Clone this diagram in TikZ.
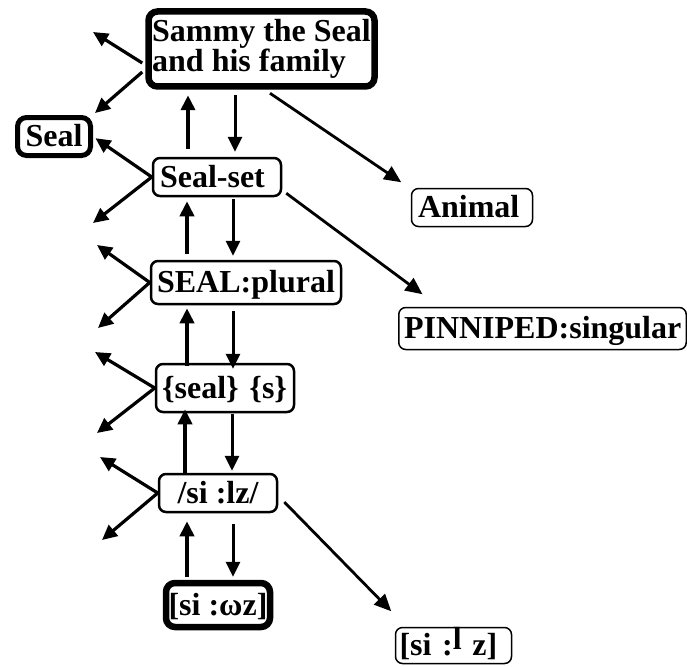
\documentclass[tikz,border=0pt]{standalone}
\usepackage{fontspec}
\setmainfont{Liberation Serif}
\usetikzlibrary{arrows.meta,calc}
\begin{document}
\begin{tikzpicture}[x=1pt,y=-1pt,
  lbl/.style={draw, rounded corners=7pt, inner sep=0pt, font=\bfseries\fontsize{32}{30}\selectfont},
  one/.style={text height=21pt, text depth=1pt},
  thickbox/.style={lbl, line width=6.5pt, rounded corners=9pt},
  midbox/.style={lbl, one, line width=2.5pt},
  thinbox/.style={lbl, one, line width=1.5pt},
  arrhead/.style={-{Triangle[length=15pt,width=14pt]}},
  uparr/.style={arrhead, line width=4pt},
  dnarr/.style={arrhead, line width=3pt},
  sidearr/.style={arrhead, line width=3.2pt},
  farr/.style={-{Triangle[length=17pt,width=15pt]}, line width=2.8pt},
]
\useasboundingbox (0,0) rectangle (687,666);

% nodes
\node[thickbox, align=left, minimum width=226pt, minimum height=75pt] (sammy) at (261.5,49) {Sammy the Seal\\and his family};
\node[thickbox, one, line width=5pt, minimum width=73pt, minimum height=38pt] (seal) at (54,136.5) {Seal};
\node[midbox, minimum width=128pt, minimum height=38pt, text width=114pt, align=left] (sealset) at (217,177) {Seal-set};
\node[midbox, minimum width=190pt, minimum height=43pt] (plural) at (246,282.5) {SEAL:plural};
\node[midbox, minimum width=138pt, minimum height=48pt, text width=126pt, align=left] (seals) at (225,388) {\{seal\}\ \{s\}};
\node[midbox, minimum width=118pt, minimum height=38pt] (silz) at (218,493) {/si :lz/};
\node[thickbox, one, minimum width=104pt, minimum height=44pt] (omega) at (218,605) {[si :ωz]};
\node[thinbox, minimum width=121pt, minimum height=38pt, text width=108pt, align=left] (animal) at (472,207.5) {Animal};
\node[thinbox, minimum width=287.5pt, minimum height=42pt, text width=277pt, align=left] (pinn) at (542.5,328.5) {PINNIPED:singular};
\node[thinbox, minimum width=116pt, minimum height=36pt, text width=108pt, align=left] (silz2) at (453.5,645.5) {[si :\raisebox{6pt}{l} z]};

% column coordinates
\coordinate (u1) at (188,0); \coordinate (d1) at (235,0);
\coordinate (u2) at (187,0); \coordinate (d2) at (233,0);
\coordinate (u3) at (187,0); \coordinate (d3) at (233,0);
\coordinate (u4) at (185,0); \coordinate (d4) at (232,0);
\coordinate (u5) at (187,0); \coordinate (d5) at (233,0);

% vertical arrows
\draw[uparr, shorten <=8pt, shorten >=5.5pt] (sealset.north -| u1) -- (sammy.south -| u1);
\draw[dnarr, shorten <=5.5pt, shorten >=5pt] (sammy.south -| d1) -- (sealset.north -| d1);
\draw[uparr, shorten <=6pt, shorten >=4pt] (plural.north -| u2) -- (sealset.south -| u2);
\draw[dnarr, shorten <=2pt, shorten >=4pt] (sealset.south -| d2) -- (plural.north -| d2);
\draw[uparr, shorten <=-3pt, shorten >=3pt] (seals.north -| u3) -- (plural.south -| u3);
\draw[dnarr, shorten <=6pt, shorten >=-6pt] (plural.south -| d3) -- (seals.north -| d3);
\draw[uparr, shorten <=-1pt, shorten >=-4pt] (silz.north -| u4) -- (seals.south -| u4);
\draw[dnarr, shorten <=1pt, shorten >=2pt] (seals.south -| d4) -- (silz.north -| d4);
\draw[uparr, shorten <=3pt, shorten >=8pt] (omega.north -| u5) -- (silz.south -| u5);
\draw[dnarr, shorten <=11pt, shorten >=3pt] (silz.south -| d5) -- (omega.north -| d5);

% free ends of left arrows
\coordinate (l1) at (93,32);
\coordinate (l2) at (93,223);
\coordinate (l3) at (97,245);
\coordinate (l4) at (98,328);
\coordinate (l5) at (95,352);
\coordinate (l6) at (97,433);
\coordinate (l7) at (100,457);
\coordinate (l8) at (102,540);

% left arrows
\draw[sidearr] ($(sammy.west)+(-3,14)$) -- (l1);
\draw[sidearr] ($(sammy.west)+(-3,23)$) -- ($(seal.north east)+(2,-2)$);
\draw[sidearr, shorten >=3pt] (sealset.west) -- (seal.east);
\draw[sidearr] (sealset.west) -- (l2);
\draw[sidearr] (plural.west) -- (l3);
\draw[sidearr] (plural.west) -- (l4);
\draw[sidearr] (seals.west) -- (l5);
\draw[sidearr] (seals.west) -- (l6);
\draw[sidearr] (silz.west) -- (l7);
\draw[sidearr] (silz.west) -- (l8);

% right arrows
\draw[farr] ($(sammy.south)+(8.5,3.5)$) -- ($(animal.north west)+(-9.5,-5.5)$);
\draw[farr] ($(sealset.south east)+(4,-4)$) -- ($(pinn.north west)+(24.5,-12.5)$);
\draw[farr] ($(silz.east)+(6,9)$) -- ($(silz2.north west)+(-3.5,-15.5)$);
\end{tikzpicture}
\end{document}
